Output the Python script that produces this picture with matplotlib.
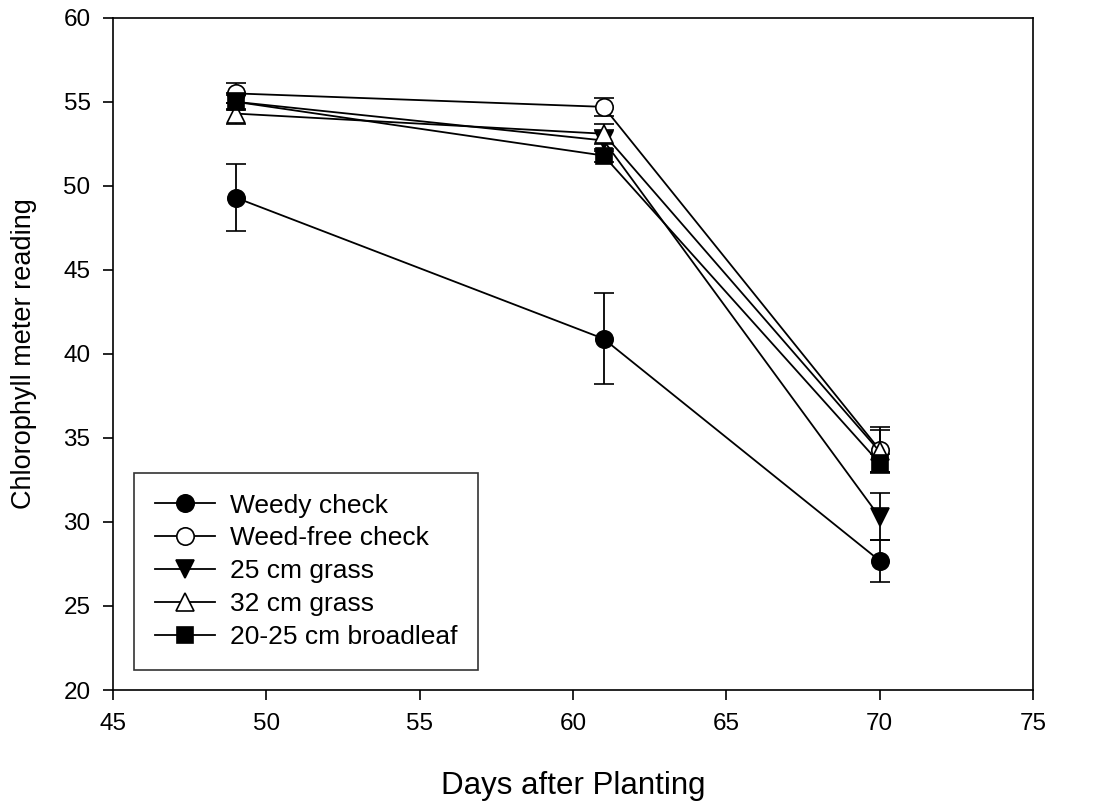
import matplotlib
matplotlib.use('Agg')
import matplotlib.pyplot as plt

plt.rcParams['font.family'] = ['Liberation Sans', 'DejaVu Sans']

days = [49, 61, 70]

weedy = [49.3, 40.9, 27.7]
weedy_err = [2.0, 2.7, 1.25]
weedfree = [55.5, 54.7, 34.3]
weedfree_err = [0.6, 0.55, 1.35]
grass25 = [55.0, 52.7, 30.3]
grass25_err = [0.5, 0.6, 1.4]
grass32 = [54.3, 53.1, 34.2]
grass32_err = [0.6, 0.6, 1.3]
broadleaf = [55.0, 51.8, 33.5]
broadleaf_err = [0.4, 0.4, 0.55]

labels = ['Weedy check', 'Weed-free check', '25 cm grass', '32 cm grass', '20-25 cm broadleaf']

fig = plt.figure(figsize=(10.93, 8.08), dpi=100)
ax = fig.add_axes([0.1034, 0.146, 0.8416, 0.832])

series = [
    (weedy, weedy_err, 'o', 'black'),
    (weedfree, weedfree_err, 'o', 'white'),
    (grass25, grass25_err, 'v', 'black'),
    (grass32, grass32_err, '^', 'white'),
    (broadleaf, broadleaf_err, 's', 'black'),
]

handles = []
for (vals, errs, mk, fc), lab in zip(series, labels):
    ms = 12.5 if mk != 's' else 11
    cont = ax.errorbar(days, vals, yerr=errs, color='black', lw=1.3, marker=mk,
                       markersize=ms, markerfacecolor=fc, markeredgecolor='black',
                       markeredgewidth=1.2, capsize=7.5, capthick=1.3, elinewidth=1.3,
                       label=lab)
    handles.append(cont[0])

ax.set_xlim(45, 75)
ax.set_ylim(20, 60)
ax.set_xticks(range(45, 76, 5))
ax.set_yticks(range(20, 61, 5))
for sp in ax.spines.values():
    sp.set_linewidth(1.2)
ax.tick_params(direction='out', length=7.2, width=1.2, labelsize=17.5, pad=9,
               top=False, right=False)
ax.set_xlabel('Days after Planting', fontsize=22.5)
ax.set_ylabel('Chlorophyll meter reading', fontsize=19.5)
ax.xaxis.set_label_coords(0.5, -0.12)
ax.yaxis.set_label_coords(-0.083, 0.5)

leg = ax.legend(handles=handles, labels=labels, loc='lower left',
                bbox_to_anchor=(0.0228, 0.0298), fontsize=19,
                frameon=True, fancybox=False, edgecolor='black', handlelength=2.3,
                borderpad=0.78, labelspacing=0.34, handletextpad=0.55,
                borderaxespad=0)
leg.get_frame().set_linewidth(1.2)

fig.savefig('out.png', dpi=100)
